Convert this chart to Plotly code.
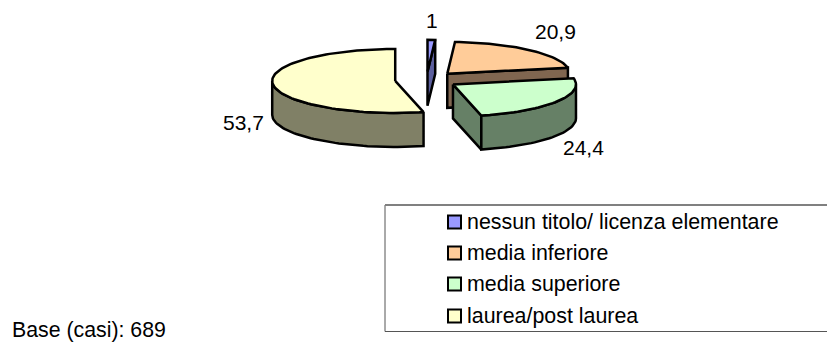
import math
import plotly.graph_objects as go

categories = ["nessun titolo/ licenza elementare", "media inferiore", "media superiore", "laurea/post laurea"]
values = [1, 20.9, 24.4, 53.7]
value_labels = ["1", "20,9", "24,4", "53,7"]
top_colors = ["#9999FF", "#FFCC99", "#CCFFCC", "#FFFFCC"]
side_colors = ["#5C5F9E", "#806650", "#668066", "#808066"]
base_note = "Base (casi): 689"

W, H = 827, 343
CX, CY, A, B, DEPTH, EXPLODE = 426.5, 80, 123, 32, 34, 0.256
LINE = 2.5
label_shift = [(1, -19), (27, -18), (27, 46), (-30, 38)]


def pt(center, deg, dy=0):
    t = math.radians(deg)
    return (center[0] + A * math.sin(t), center[1] - B * math.cos(t) + dy)


def arc(center, d0, d1, dy=0):
    n = max(2, int(abs(d1 - d0) / 2) + 1)
    return [pt(center, d0 + (d1 - d0) * i / (n - 1), dy) for i in range(n)]


def poly(fig, pts, color):
    xs = [p[0] for p in pts] + [pts[0][0]]
    ys = [p[1] for p in pts] + [pts[0][1]]
    fig.add_trace(go.Scatter(x=xs, y=ys, mode="lines", fill="toself", fillcolor=color,
                             line=dict(color="black", width=LINE, shape="linear"),
                             hoverinfo="skip", showlegend=False))


fig = go.Figure()
total = sum(values)
slices = []
start = 0.0
for v in values:
    end = start + 360 * v / total
    mid = math.radians((start + end) / 2)
    c = (CX + EXPLODE * A * math.sin(mid), CY - EXPLODE * B * math.cos(mid))
    slices.append((start, end, c))
    start = end

# draw back to front: blue, inferiore, laurea, superiore
for i in [0, 1, 3, 2]:
    d0, d1, c = slices[i]
    if i in (0, 1, 2):
        poly(fig, [c, pt(c, d1), pt(c, d1, DEPTH), (c[0], c[1] + DEPTH)], side_colors[i])
    w0, w1 = max(d0, 90), min(d1, 270)
    if w1 > w0:
        poly(fig, arc(c, w0, w1) + arc(c, w1, w0, DEPTH), side_colors[i])
    poly(fig, [c] + arc(c, d0, d1), top_colors[i])

annotations = []
for i, (d0, d1, c) in enumerate(slices):
    p = pt(c, (d0 + d1) / 2)
    annotations.append(dict(x=p[0], y=p[1], text=value_labels[i], showarrow=False,
                            xref="x", yref="y", xanchor="center", yanchor="middle",
                            xshift=label_shift[i][0], yshift=-label_shift[i][1],
                            font=dict(family="Liberation Sans", size=21, color="black")))
annotations.append(dict(x=10, y=330, text=base_note, showarrow=False, xref="x", yref="y",
                        xanchor="left", yanchor="middle",
                        font=dict(family="Liberation Sans", size=21.3, color="black")))

fig.add_shape(type="rect", x0=385, y0=205, x1=835, y1=331.5, xref="x", yref="y",
              line=dict(color="#555555", width=1), fillcolor="white", layer="below")
fig.add_shape(type="line", x0=385, y0=205, x1=835, y1=205, xref="x", yref="y",
              line=dict(color="#808080", width=2), layer="below")
legend_y = [222, 253, 284, 316]
for i, cat in enumerate(categories):
    fig.add_trace(go.Scatter(x=[454.5], y=[legend_y[i]], mode="markers",
                             marker=dict(symbol="square", size=13, color=top_colors[i],
                                         line=dict(color="black", width=2)),
                             hoverinfo="skip", showlegend=False))
    annotations.append(dict(x=466, y=legend_y[i], text=cat, showarrow=False, xref="x", yref="y",
                            xanchor="left", yanchor="middle", xshift=-1,
                            font=dict(family="Liberation Sans", size=21.4, color="black")))

fig.update_layout(width=W, height=H, margin=dict(l=0, r=0, t=0, b=0),
                  paper_bgcolor="white", plot_bgcolor="white", showlegend=False,
                  annotations=annotations,
                  xaxis=dict(range=[0, W], visible=False, fixedrange=True),
                  yaxis=dict(range=[H, 0], visible=False, fixedrange=True))
fig.write_html("out.html", config=dict(displayModeBar=False),
               default_width=f"{W}px", default_height=f"{H}px",
               post_script="document.body.style.margin='0';")
